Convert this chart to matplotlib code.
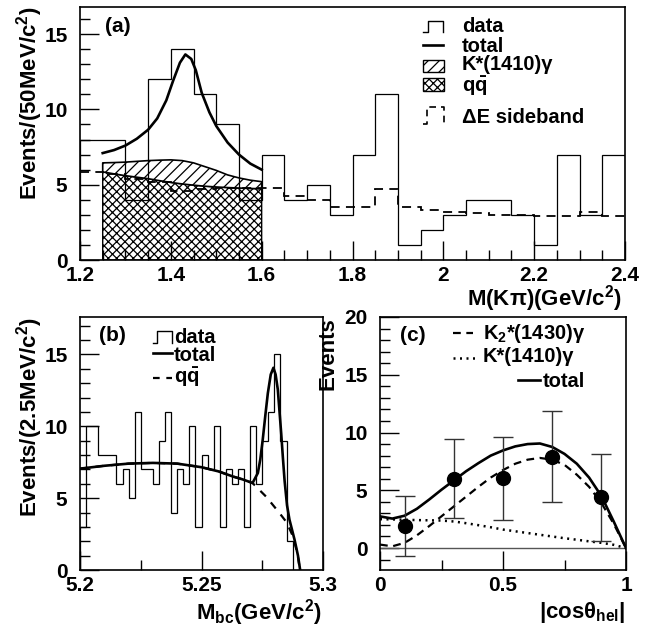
import matplotlib

matplotlib.use("Agg")
import matplotlib.pyplot as plt
import numpy as np
from matplotlib.lines import Line2D
from matplotlib.patches import Rectangle
from matplotlib.ticker import FuncFormatter, MultipleLocator

W, H = 652, 631

# ---- panel (a): M(K pi), 50 MeV bins
a_edges = np.round(np.linspace(1.2, 2.4, 25), 3)
a_data = [8, 8, 4, 12, 14, 11, 9, 4, 7, 4, 5, 3, 7, 11, 1, 2, 3, 4, 4, 3, 1, 7, 3, 7]
a_sideband = [5.85, 5.7, 5.4, 5.2, 4.55, 4.7, 4.75, 4.75, 4.75, 4.25, 4.0, 3.5,
              3.5, 4.7, 3.5, 3.3, 3.2, 3.1, 3.0, 3.0, 2.9, 2.9, 3.2, 2.9]
a_comp_x = [1.25, 1.275, 1.3, 1.325, 1.35, 1.375, 1.4, 1.425, 1.45, 1.475, 1.5, 1.525, 1.55, 1.575, 1.6]
a_qq = [5.85, 5.72, 5.6, 5.5, 5.4, 5.27, 5.15, 5.05, 4.97, 4.9, 4.85, 4.81, 4.78, 4.75, 4.73]
a_kstar_top = [6.45, 6.47, 6.5, 6.55, 6.6, 6.63, 6.65, 6.6, 6.45, 6.2, 5.95, 5.65, 5.45, 5.3, 5.2]
a_total_x = [1.25, 1.275, 1.3, 1.325, 1.35, 1.37, 1.39, 1.405, 1.42, 1.432, 1.445, 1.455,
             1.468, 1.485, 1.5, 1.525, 1.55, 1.575, 1.6]
a_total = [7.1, 7.3, 7.6, 8.05, 8.65, 9.4, 10.6, 11.9, 13.1, 13.65, 13.35, 12.6,
           11.1, 9.8, 8.9, 7.8, 7.0, 6.4, 6.0]

# ---- panel (b): Mbc, 2.5 MeV bins
b_edges = np.round(np.linspace(5.2, 5.3, 41), 4)
b_data = [3, 10, 10, 8, 8, 8, 6, 7, 5, 11, 7, 7, 6, 9, 11, 4, 7, 6, 10, 3,
          8, 7, 10, 3, 7, 6, 7, 3, 10, 6, 9, 11, 15, 9, 2, 0, 0, 0, 0, 0]
b_bkg_x = [5.200, 5.210, 5.220, 5.230, 5.240, 5.250, 5.257, 5.263, 5.267, 5.271,
           5.2766, 5.2821, 5.2851, 5.2872, 5.2888, 5.2898, 5.2905]
b_bkg = [7.05, 7.25, 7.4, 7.45, 7.4, 7.15, 6.86, 6.5, 6.3, 6.05,
         5.1, 3.96, 3.3, 2.5, 1.6, 0.8, 0.0]
b_total_x = [5.200, 5.210, 5.220, 5.230, 5.240, 5.250, 5.257, 5.263, 5.267, 5.271,
             5.2732, 5.2742, 5.2752, 5.2763, 5.2773, 5.2785, 5.2796, 5.2805, 5.2814,
             5.2828, 5.2835, 5.2842, 5.2852, 5.2862, 5.2883, 5.2897, 5.2906]
b_total = [7.05, 7.25, 7.4, 7.45, 7.4, 7.15, 6.86, 6.5, 6.3, 6.05,
           6.75, 7.7, 9.07, 10.8, 12.3, 13.6, 14.07, 13.6, 12.56,
           9.5, 7.8, 6.2, 4.5, 3.5, 2.1, 1.0, 0.0]

# ---- panel (c): helicity angle
c_x = [0.1, 0.3, 0.5, 0.7, 0.9]
c_y = [1.9, 6.0, 6.1, 7.9, 4.4]
c_lo = [-0.7, 2.6, 2.45, 3.95, 0.65]
c_hi = [4.5, 9.45, 9.65, 11.9, 8.1]
c_curve_x = [0.0, 0.05, 0.1, 0.15, 0.2, 0.25, 0.3, 0.35, 0.4, 0.45, 0.5,
             0.55, 0.6, 0.65, 0.7, 0.75, 0.8, 0.85, 0.9, 0.95, 1.0]
c_k2 = [0.3, 0.15, 0.45, 1.1, 1.9, 2.75, 3.6, 4.45, 5.3, 6.1, 6.75,
        7.3, 7.65, 7.8, 7.65, 7.2, 6.35, 5.3, 3.9, 2.1, 0.0]
c_k1410 = [2.5, 2.48, 2.45, 2.42, 2.4, 2.38, 2.3, 2.15, 1.98, 1.8, 1.6,
           1.45, 1.3, 1.15, 1.0, 0.85, 0.72, 0.58, 0.45, 0.28, 0.0]
c_total = [2.74, 2.55, 2.8, 3.4, 4.2, 5.05, 5.85, 6.65, 7.35, 8.0, 8.45,
           8.8, 9.0, 9.05, 8.75, 8.15, 7.3, 6.1, 4.5, 2.3, 0.0]

plt.rcParams["font.family"] = ["Liberation Sans", "DejaVu Sans"]
plt.rcParams["font.weight"] = "bold"
plt.rcParams["mathtext.fontset"] = "custom"
plt.rcParams["mathtext.rm"] = "Liberation Sans:bold"
plt.rcParams["mathtext.it"] = "Liberation Sans:bold"
plt.rcParams["mathtext.bf"] = "Liberation Sans:bold"
plt.rcParams["mathtext.default"] = "regular"
plt.rcParams["hatch.linewidth"] = 0.9


def fx(x):
    return x / W


def fy(y):
    return 1 - y / H


def px_rect(l, t, r, b):
    return [fx(l), fy(b), (r - l) / W, (b - t) / H]


def fig_line(fig, pts, **kw):
    fig.add_artist(Line2D([fx(p[0]) for p in pts], [fy(p[1]) for p in pts],
                          transform=fig.transFigure, color="k", **kw))


def fig_box(fig, l, t, r, b, hatch):
    fig.add_artist(Rectangle((fx(l), fy(b)), (r - l) / W, (b - t) / H, transform=fig.transFigure,
                             facecolor="white", edgecolor="k", hatch=hatch, lw=1.0))


def fig_text(fig, x, y, s, size=14.5, **kw):
    fig.text(fx(x), fy(y), s, fontsize=size, fontweight="bold", va="baseline", **kw)


def ylab(fig, x, y, s):
    fig.text(fx(x), fy(y), s, fontsize=16, fontweight="bold", rotation=90,
             rotation_mode="anchor", ha="right", va="baseline")


def style(ax, xmaj, xmin, ymaj, ymin):
    for s in ax.spines.values():
        s.set_linewidth(1.2)
    ax.xaxis.set_major_locator(MultipleLocator(xmaj))
    ax.xaxis.set_minor_locator(MultipleLocator(xmin))
    ax.yaxis.set_major_locator(MultipleLocator(ymaj))
    ax.yaxis.set_minor_locator(MultipleLocator(ymin))
    fmt = FuncFormatter(lambda v, _: f"{v:g}")
    ax.xaxis.set_major_formatter(fmt)
    ax.yaxis.set_major_formatter(fmt)
    ax.tick_params(which="both", direction="in", top=False, right=False, width=1.0, labelsize=15)
    ax.tick_params(which="major", length=14)
    ax.tick_params(which="minor", length=7)
    ax.tick_params(axis="y", pad=9)
    ax.tick_params(axis="x", pad=4)


fig = plt.figure(figsize=(W / 100, H / 100), dpi=100)

# (a)
ax = fig.add_axes(px_rect(80, 7, 625, 260))
ax.fill_between(a_comp_x, 0, a_qq, facecolor="white", edgecolor="k", hatch="xxxx", lw=1.0)
ax.fill_between(a_comp_x, a_qq, a_kstar_top, facecolor="white", edgecolor="k", hatch="///", lw=1.2)
ax.stairs(a_data, a_edges, baseline=0, color="k", lw=0.9)
ax.stairs(a_sideband, a_edges, baseline=None, color="k", lw=1.3, linestyle=(0, (5, 3.5)))
ax.plot(a_total_x, a_total, color="k", lw=1.9)
ax.set_xlim(1.2, 2.4)
ax.set_ylim(0, 16.8)
style(ax, 0.2, 0.05, 5, 1)

# (b)
ax = fig.add_axes(px_rect(80, 317, 323, 570))
ax.stairs(b_data, b_edges, baseline=0, color="k", lw=0.9)
ax.plot(b_bkg_x, b_bkg, color="k", lw=1.6, linestyle=(0, (3.5, 3.5)))
ax.plot(b_total_x, b_total, color="k", lw=1.9)
ax.set_xlim(5.2, 5.3)
ax.set_ylim(0, 17.6)
style(ax, 0.05, 0.025, 5, 1)

# (c)
ax = fig.add_axes(px_rect(380, 317, 626, 570))
ax.axhline(0, color="#555555", lw=1.0)
ax.plot(c_curve_x, c_k2, color="k", lw=1.6, linestyle=(0, (3.5, 2.5)))
ax.plot(c_curve_x, c_k1410, color="k", lw=1.8, linestyle=(0, (0.8, 1.8)))
ax.plot(c_curve_x, c_total, color="k", lw=1.9)
yerr = [np.subtract(c_y, c_lo), np.subtract(c_hi, c_y)]
ax.errorbar(c_x, c_y, yerr=yerr, fmt="o", color="k", ms=10, ecolor="#333333",
            elinewidth=1.0, capsize=7, capthick=1.0)
ax.set_xlim(0, 1)
ax.set_ylim(-1.9, 20)
style(ax, 0.5, 0.25, 5, 1)

# panel tags
fig_text(fig, 105, 32.5, "(a)", 15)
fig_text(fig, 99, 341, "(b)", 15)
fig_text(fig, 400, 341, "(c)", 15)

# axis titles
ylab(fig, 37, 7, "Events/(50MeV/c$^{2}$)")
ylab(fig, 37, 317, "Events/(2.5MeV/c$^{2}$)")
ylab(fig, 333, 317, "Events")
fig_text(fig, 622, 306, r"M(K$\pi$)(GeV/c$^{2}$)", 16, ha="right")
fig_text(fig, 322, 620, "M$_{bc}$(GeV/c$^{2}$)", 16, ha="right")
fig_text(fig, 626, 618, r"|cos$\theta_{hel}$|", 16, ha="right")

# legend (a)
fig_line(fig, [(423, 31.7), (428, 31.7), (428, 21), (443, 21), (443, 31.7)], lw=1.0)
fig_text(fig, 462, 32, "data")
fig_line(fig, [(423, 45), (443, 45)], lw=1.9)
fig_text(fig, 462, 52.5, "total")
fig_box(fig, 423, 60.5, 444, 71.7, "///")
fig_text(fig, 462, 70, "K*(1410)γ")
fig_box(fig, 423, 78.3, 444, 90.7, "xxxx")
fig_text(fig, 462, 91.5, r"q$\bar{q}$")
fig_line(fig, [(423, 124), (427, 124), (427, 107), (444, 107), (444, 124)], lw=1.2,
         linestyle=(0, (4, 3)))
fig_text(fig, 462, 123.3, "ΔE sideband")

# legend (b)
fig_line(fig, [(153, 343), (157, 343), (157, 331), (172, 331), (172, 343)], lw=1.0)
fig_text(fig, 174, 343, "data")
fig_line(fig, [(153, 353), (172, 353)], lw=1.9)
fig_text(fig, 174, 361, "total")
fig_line(fig, [(153, 378), (172, 378)], lw=1.6, linestyle=(0, (3, 3)))
fig_text(fig, 174, 383, r"q$\bar{q}$")

# legend (c)
fig_line(fig, [(453, 333), (473, 333)], lw=1.6, linestyle=(0, (3.5, 2.5)))
fig_text(fig, 483, 339, "K$_{2}$*(1430)γ")
fig_line(fig, [(453, 358), (475, 358)], lw=1.8, linestyle=(0, (0.8, 1.8)))
fig_text(fig, 483, 361.7, "K*(1410)γ")
fig_line(fig, [(518, 380), (540, 380)], lw=1.9)
fig_text(fig, 543, 386.7, "total")

fig.savefig("out.png", dpi=100)
